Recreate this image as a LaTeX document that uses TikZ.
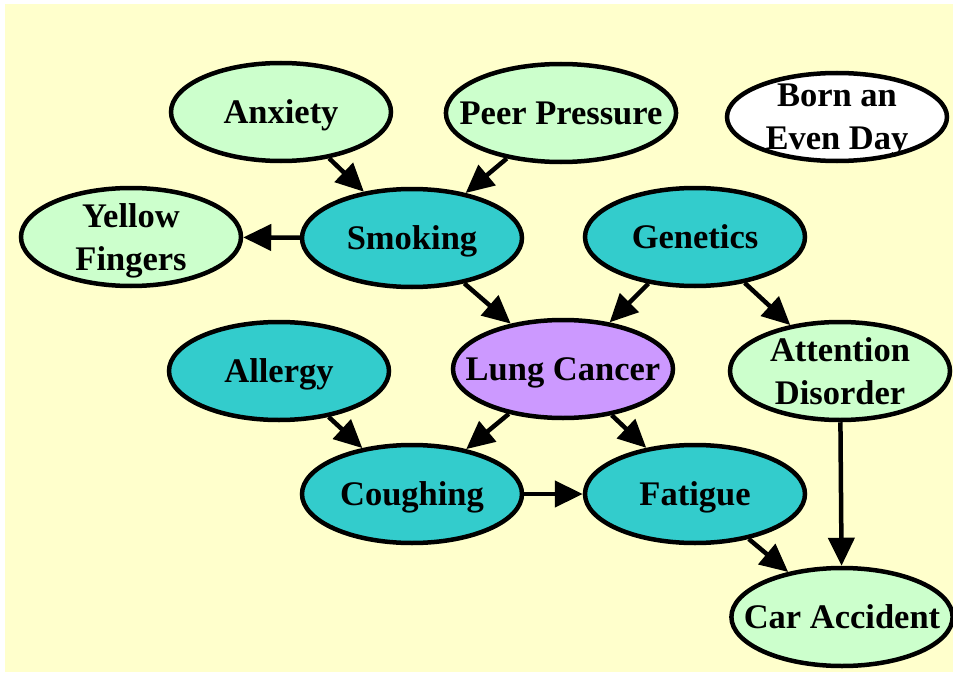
\documentclass[tikz,border=0pt]{standalone}
\usepackage{fontspec}
\setmainfont{Liberation Serif}
\usetikzlibrary{arrows.meta,shapes.geometric}

\definecolor{paper}{HTML}{FFFFCC}
\definecolor{mint}{HTML}{CCFFCC}
\definecolor{teal}{HTML}{33CCCC}
\definecolor{lilac}{HTML}{CC99FF}

\begin{document}
\begin{tikzpicture}[->,>={Triangle[length=28pt,width=26pt]},line width=4.5pt,
                    x=1pt,y=-1pt]
      \tikzstyle{var}=[ellipse,draw,inner sep=-20pt,minimum width=220pt,
                       minimum height=98pt,align=center,text depth=0pt,
                       font=\fontsize{34.5}{43}\selectfont\bfseries]

      \useasboundingbox (0,0) rectangle (953,674);
      \fill[paper] (5,4) rectangle (953,672);

      \node[var,fill=mint]  (anxiety)   at (281,112) {Anxiety};
      \node[var,fill=mint]  (peer)      at (561,113) {Peer Pressure};
      \node[var,fill=white,minimum height=88pt]
                            (born)      at (837,117) {Born an\\Even Day};
      \node[var,fill=mint]  (yellow)    at (131,237) {Yellow\\Fingers};
      \node[var,fill=teal]  (smoking)   at (412,238) {Smoking};
      \node[var,fill=teal]  (genetics)  at (695,237) {Genetics};
      \node[var,fill=teal]  (allergy)   at (279,371) {Allergy};
      \node[var,fill=lilac] (lung)      at (563,369) {Lung Cancer};
      \node[var,fill=mint]  (attention) at (840,371) {Attention\\Disorder};
      \node[var,fill=teal]  (coughing)  at (412,494) {Coughing};
      \node[var,fill=teal]  (fatigue)   at (695,494) {Fatigue};
      \node[var,fill=mint]  (car)       at (842,617) {Car Accident};

      \path (anxiety)   edge (smoking)
            (peer)      edge (smoking)
            (smoking)   edge (yellow)
                        edge (lung)
            (genetics)  edge (lung)
                        edge (attention)
            (allergy)   edge (coughing)
            (lung)      edge (coughing)
                        edge (fatigue)
            (coughing)  edge (fatigue)
            (fatigue)   edge (car)
            (attention) edge (car);

\end{tikzpicture}
\end{document}
